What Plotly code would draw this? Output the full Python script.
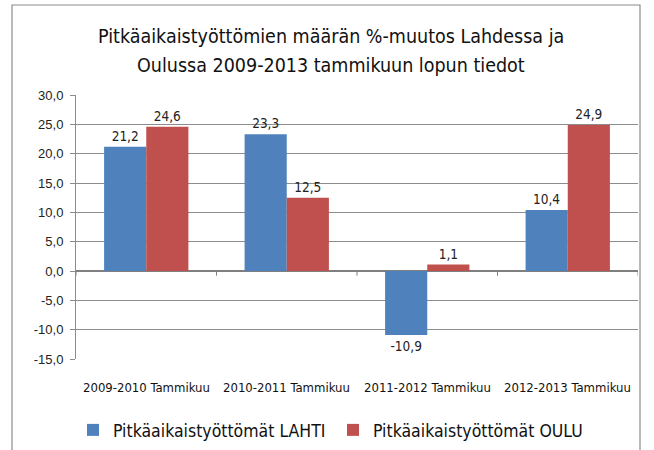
import plotly.graph_objects as go

categories = ["2009-2010 Tammikuu", "2010-2011 Tammikuu", "2011-2012 Tammikuu", "2012-2013 Tammikuu"]
lahti = [21.2, 23.3, -10.9, 10.4]
oulu = [24.6, 12.5, 1.1, 24.9]
tick_vals = [-15, -10, -5, 0, 5, 10, 15, 20, 25, 30]
tick_text = ["-15,0", "-10,0", "-5,0", "0,0", "5,0", "10,0", "15,0", "20,0", "25,0", "30,0"]
title_lines = ["Pitkäaikaistyöttömien määrän %-muutos Lahdessa ja",
               "Oulussa 2009-2013 tammikuun lopun tiedot"]

def fmt(v):
    return f"{v:.1f}".replace(".", ",")

NARROW = "DejaVu Sans Condensed, Liberation Sans Narrow, sans-serif"
W, H = 654, 450
L, R, T, B = 76, 16, 95, 91
PW, PH = W - L - R, H - T - B

fig = go.Figure()
fig.add_trace(go.Bar(x=categories, y=lahti, name="Pitkäaikaistyöttömät LAHTI",
                     marker=dict(color="#4F81BD", line=dict(width=0)),
                     text=[fmt(v) for v in lahti], textposition="outside",
                     textfont=dict(family=NARROW, size=13.5, color="#222222"), cliponaxis=False))
fig.add_trace(go.Bar(x=categories, y=oulu, name="Pitkäaikaistyöttömät OULU",
                     marker=dict(color="#C0504D", line=dict(width=0)),
                     text=[fmt(v) for v in oulu], textposition="outside",
                     textfont=dict(family=NARROW, size=13.5, color="#222222"), cliponaxis=False))

fig.update_layout(
    width=W, height=H,
    margin=dict(l=L, r=R, t=T, b=B, autoexpand=False),
    paper_bgcolor="white", plot_bgcolor="white",
    barmode="group", bargap=0.4, bargroupgap=0,
    showlegend=True,
    legend=dict(orientation="h", xref="container", x=73 / W, xanchor="left",
                yref="container", y=1 - 430 / H, yanchor="middle",
                font=dict(family=NARROW, size=17.5, color="#111111"),
                entrywidth=215, traceorder="normal"),
    font=dict(family="Liberation Sans, Arial, sans-serif", color="#222222"),
)
for line, ypx in zip(title_lines, [37, 65]):
    fig.add_annotation(text=line, xref="paper", yref="paper",
                       x=(331 - L) / PW, y=(H - B - ypx) / PH,
                       xanchor="center", yanchor="middle", showarrow=False,
                       font=dict(family=NARROW, size=19.5, color="#111111"))

# category labels centred on each category
for cat in categories:
    fig.add_annotation(text=cat, xref="x", yref="paper",
                       x=cat, y=(H - B - 387) / PH,
                       xanchor="center", yanchor="middle", showarrow=False,
                       font=dict(family=NARROW, size=13, color="#111111"))

# small category-axis tick marks on the zero line (category boundaries)
for k in range(len(categories) + 1):
    fig.add_shape(type="line", xref="x", yref="y", x0=k - 0.5, x1=k - 0.5,
                  y0=0, y1=-0.8, line=dict(color="#7f7f7f", width=1))

fig.update_yaxes(range=[-15, 30], tickvals=tick_vals, ticktext=tick_text, automargin=False,
                 showgrid=True, gridcolor="#8c8c8c", gridwidth=1,
                 zeroline=True, zerolinecolor="#7f7f7f", zerolinewidth=1.5,
                 showline=True, linecolor="#8c8c8c", linewidth=1,
                 ticks="outside", ticklen=5, tickcolor="#8c8c8c", ticklabelstandoff=4,
                 tickfont=dict(family="Liberation Sans, Arial, sans-serif", size=13, color="#222222"))
fig.update_xaxes(range=[-0.5, len(categories) - 0.5], showgrid=False, showline=False,
                 ticks="", showticklabels=False, automargin=False)

# outer chart border
fig.add_shape(type="rect", xref="paper", yref="paper",
              x0=(12 - L) / PW, x1=(640 - L) / PW,
              y0=(H - B - 455) / PH, y1=(H - B - 5) / PH,
              line=dict(color="#8c8c8c", width=1.2), fillcolor="rgba(0,0,0,0)", layer="below")

fig.write_html("out.html", config={"displayModeBar": False},
               post_script="document.body.style.margin='0';document.body.style.overflow='hidden';")
